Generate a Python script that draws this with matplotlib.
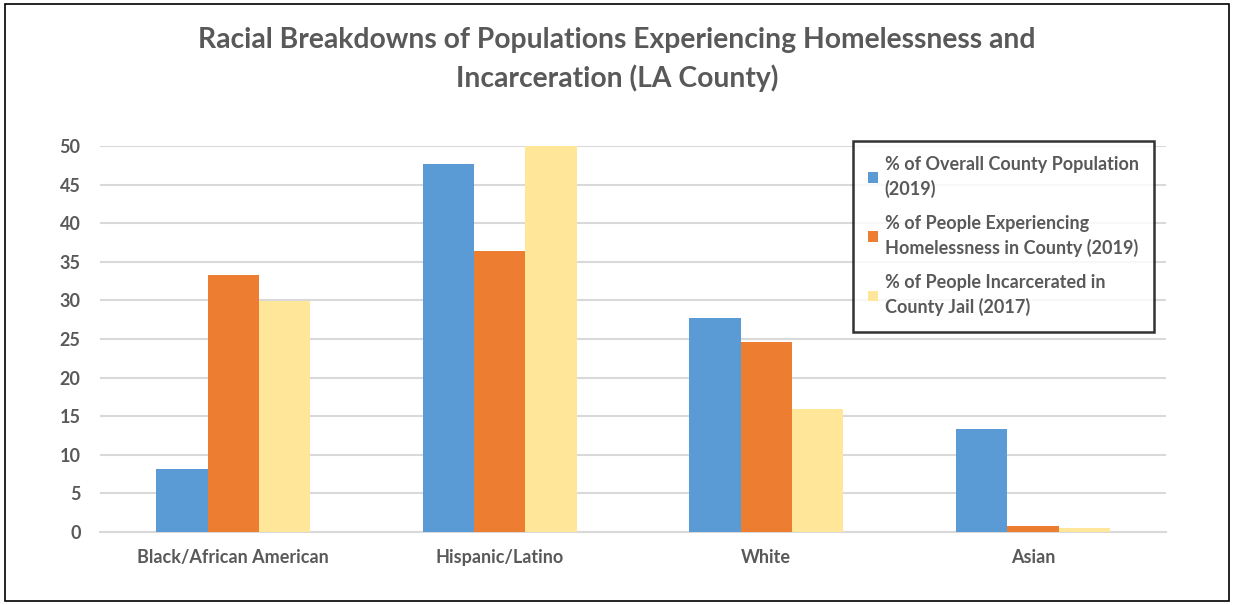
"""Racial breakdowns of homelessness and incarceration in LA County."""

import matplotlib

matplotlib.use("Agg")
import matplotlib.pyplot as plt
import numpy as np
from matplotlib.patches import Rectangle

CATEGORIES = ["Black/African American", "Hispanic/Latino", "White", "Asian"]
SERIES = [
    "% of Overall County Population\n(2019)",
    "% of People Experiencing\nHomelessness in County (2019)",
    "% of People Incarcerated in\nCounty Jail (2017)",
]
COUNTY_POP = [8.2, 47.7, 27.7, 13.3]
HOMELESS = [33.3, 36.4, 24.6, 0.8]
JAIL = [29.9, 50.0, 15.9, 0.5]

COLORS = ["#5b9bd5", "#ed7d31", "#ffe699"]
GREY = "#595959"

plt.rcParams["font.family"] = ["Lato", "DejaVu Sans"]

fig = plt.figure(figsize=(12.34, 6.05), dpi=100)
ax = fig.add_axes([0.081, 0.1207, 0.864, 0.638])

x = np.arange(len(CATEGORIES))
width = 0.193
for i, (vals, label, color) in enumerate(zip([COUNTY_POP, HOMELESS, JAIL], SERIES, COLORS)):
    ax.bar(x + (i - 1) * width, vals, width, color=color, label=label, zorder=3)

ax.set_xlim(-0.5, 3.5)
ax.set_ylim(0, 50)
ax.set_yticks(range(0, 51, 5))
ax.set_xticks(x)
ax.set_xticklabels(CATEGORIES)
ax.yaxis.grid(True, color="#d9d9d9", linewidth=1.5, zorder=0)
ax.tick_params(axis="both", length=0, labelsize=13, labelcolor=GREY)
ax.tick_params(axis="x", pad=12)
ax.tick_params(axis="y", pad=14)
for lab in ax.get_xticklabels() + ax.get_yticklabels():
    lab.set_fontweight("bold")
for side in ["top", "right", "left"]:
    ax.spines[side].set_visible(False)
ax.spines["bottom"].set_color("#d9d9d9")
ax.spines["bottom"].set_linewidth(1.5)

leg = ax.legend(
    loc="upper right",
    bbox_to_anchor=(0.9887, 1.013),
    frameon=True,
    fancybox=False,
    edgecolor="black",
    prop={"weight": "bold", "size": 13},
    handlelength=0.55,
    handleheight=0.55,
    handletextpad=0.35,
    labelspacing=0.95,
    borderpad=0.85,
    borderaxespad=0.0,
)
leg.get_frame().set_linewidth(1.8)
for t in leg.get_texts():
    t.set_color(GREY)
    t.set_linespacing(1.45)

fig.text(
    0.5,
    0.902,
    "Racial Breakdowns of Populations Experiencing Homelessness and\nIncarceration (LA County)",
    ha="center",
    va="center",
    fontsize=20.3,
    fontweight="bold",
    color=GREY,
    linespacing=1.5,
)

fig.patches.append(
    Rectangle((0.004, 0.007), 0.992, 0.986, transform=fig.transFigure,
              fill=False, edgecolor="black", linewidth=1.2)
)

fig.savefig("out.png", dpi=100, facecolor="white")
plt.close(fig)
